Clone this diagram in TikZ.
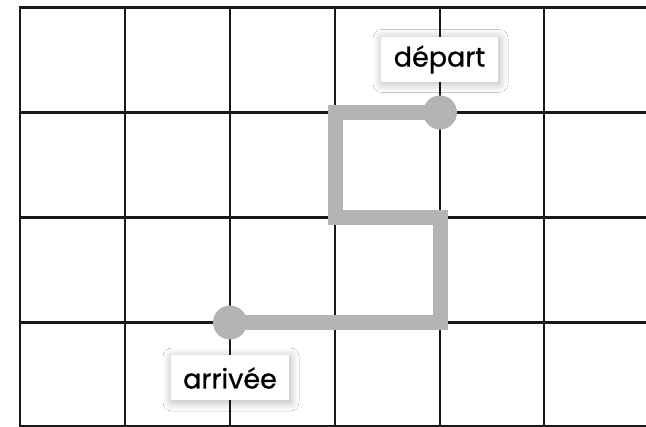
\documentclass[tikz,border=0pt]{standalone}
\usepackage{fontspec}
\setmainfont{Poppins}
\newfontfamily\labelfont{Poppins}[FakeBold=0.9]
\usetikzlibrary{shadows.blur}
\definecolor{pathgray}{RGB}{179,180,182}
\tikzset{
  gridline/.style={line width=2.6pt, black!90},
  route/.style={line width=15pt, pathgray, line join=miter, line cap=butt},
  dot/.style={circle, fill=pathgray, minimum size=34pt, inner sep=0pt},
  labelbox/.style={fill=white, minimum height=45pt, inner sep=0pt, font=\labelfont\fontsize{27}{30}\selectfont,
    blur shadow={shadow xshift=1pt, shadow yshift=-1.5pt, shadow blur steps=14, shadow blur extra rounding=0pt, shadow blur radius=9pt, shadow opacity=30}}
}
\begin{document}
\begin{tikzpicture}[x=1pt,y=-1pt]
\useasboundingbox (0,0) rectangle (646,427);
\fill[white] (0,0) rectangle (646,427);
% grid
\foreach \x in {20,125,230,335,440,544} {\draw[gridline] (\x,7.5) -- (\x,427);}
\foreach \y in {7.5,112.5,217.5,322.5,426} {\draw[gridline] (18.7,\y) -- (646,\y);}
% route
\coordinate (c1) at (335,112.5);
\coordinate (c2) at (335,217.5);
\coordinate (c3) at (440,217.5);
\coordinate (c4) at (440,322.5);
\node[dot] (dep) at (440,112.5) {};
\node[dot] (arr) at (230,322.5) {};
\draw[route] (dep.center) -- (c1) -- (c2) -- (c3) -- (c4) -- (arr.center);
% labels
\node[labelbox, minimum width=117pt] (ldep) at (439.5,59.5) {départ};
\node[labelbox, minimum width=118pt] (larr) at (230,378) {arrivée};
\end{tikzpicture}
\end{document}
